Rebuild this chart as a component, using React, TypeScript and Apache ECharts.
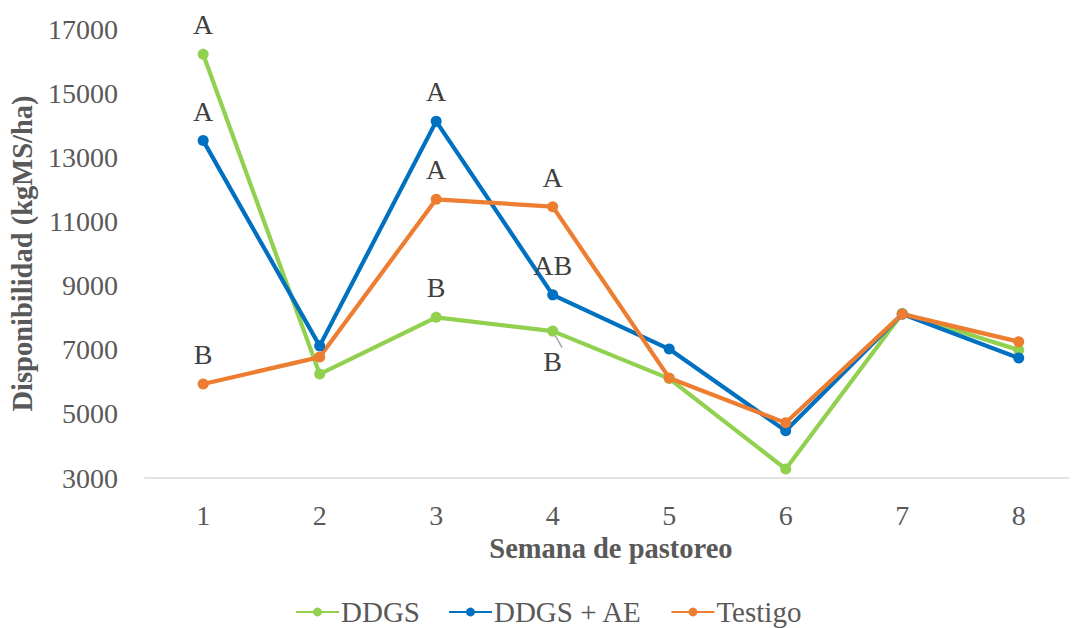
import React, { useEffect, useRef } from "react";
import * as echarts from "echarts";

// Semanas de pastoreo
const weeks = ["1", "2", "3", "4", "5", "6", "7", "8"];

// Disponibilidad de forraje (kgMS/ha) por tratamiento
const ddgs = [16210, 6240, 8010, 7580, 6100, 3280, 8130, 6990];
const ddgsAe = [13520, 7120, 14120, 8710, 7020, 4470, 8110, 6740];
const testigo = [5930, 6770, 11690, 11460, 6120, 4720, 8110, 7250];

// Letras de significancia por semana ("" = sin letra)
const ddgsLetters = ["A", "", "B", "B", "", "", "", ""];
const ddgsAeLetters = ["A", "", "A", "AB", "", "", "", ""];
const testigoLetters = ["B", "", "A", "A", "", "", "", ""];

// Letras que van debajo del punto
const ddgsBelow = [false, false, false, true, false, false, false, false];

const yTicks = { min: 3000, max: 17000, interval: 2000 };

const FONT = "Liberation Serif";

function buildData(values: number[], letters: string[], below?: boolean[]) {
  return values.map((v, i) => {
    const item: any = { value: v };
    if (letters[i]) {
      const isBelow = !!(below && below[i]);
      item.label = {
        show: true,
        formatter: letters[i],
        position: isBelow ? "bottom" : "top",
        distance: isBelow ? 11 : 10,
      };
    }
    return item;
  });
}

export default function App() {
  const ref = useRef<HTMLDivElement>(null);

  useEffect(() => {
    if (!ref.current) return;
    const chart = echarts.init(ref.current, null, { renderer: "svg" });

    const labelBase = {
      show: false,
      color: "#404040",
      fontFamily: FONT,
      fontSize: 28,
    };

    const mkSeries = (name: string, color: string, data: any[], guide = false) => ({
      name,
      type: "line",
      data,
      symbol: "circle",
      symbolSize: 11,
      lineStyle: { color, width: 4.2 },
      itemStyle: { color },
      label: labelBase,
      labelLine: guide
        ? { show: true, lineStyle: { color: "#A6A6A6", width: 1.5 } }
        : { show: false },
      emphasis: { disabled: true },
      z: 2,
    });

    const titleStyle = {
      fontFamily: FONT,
      fontSize: 28.5,
      fontWeight: "bold",
      color: "#595959",
    };

    chart.setOption({
      animation: false,
      backgroundColor: "#ffffff",
      textStyle: { fontFamily: FONT },
      grid: { left: 142, top: 29, width: 946, height: 449 },
      xAxis: {
        type: "category",
        data: weeks,
        boundaryGap: true,
        name: "Semana de pastoreo",
        nameLocation: "middle",
        nameGap: 56,
        nameTextStyle: titleStyle,
        axisLine: { show: true, lineStyle: { color: "#D9D9D9", width: 1.5 } },
        axisTick: { show: false },
        axisLabel: {
          fontFamily: FONT,
          fontSize: 28,
          color: "#595959",
          margin: 23,
        },
        splitLine: { show: false },
      },
      yAxis: {
        type: "value",
        min: yTicks.min,
        max: yTicks.max,
        interval: yTicks.interval,
        name: "Disponibilidad (kgMS/ha)",
        nameLocation: "middle",
        nameRotate: 90,
        nameGap: 104,
        nameTextStyle: titleStyle,
        axisLine: { show: false },
        axisTick: { show: false },
        axisLabel: {
          fontFamily: FONT,
          fontSize: 28,
          color: "#595959",
          margin: 27,
          formatter: (v: number) => String(v),
        },
        splitLine: { show: false },
      },
      legend: {
        show: true,
        top: 597,
        left: 295,
        padding: 0,
        itemWidth: 43,
        itemHeight: 11,
        itemGap: 28,
        textStyle: {
          fontFamily: FONT,
          fontSize: 29,
          lineHeight: 30,
          color: "#595959",
          padding: [0, 0, 0, -3],
        },
        data: ["DDGS", "DDGS + AE", "Testigo"],
      },
      series: [
        mkSeries("DDGS", "#92D050", buildData(ddgs, ddgsLetters, ddgsBelow), true),
        mkSeries("DDGS + AE", "#0070C0", buildData(ddgsAe, ddgsAeLetters)),
        mkSeries("Testigo", "#ED7D31", buildData(testigo, testigoLetters)),
      ],
    });

    return () => chart.dispose();
  }, []);

  return (
    <div
      ref={ref}
      style={{ width: 1077, height: 628, margin: "-8px -8px 0 -8px" }}
    />
  );
}
